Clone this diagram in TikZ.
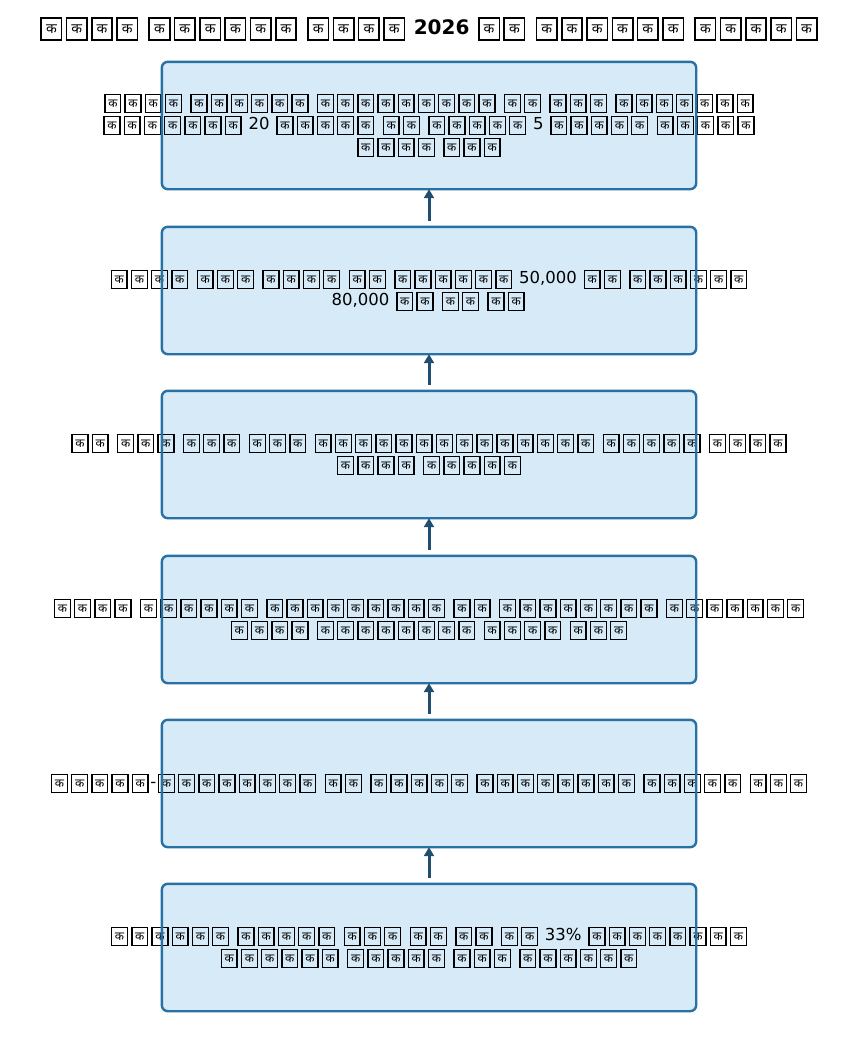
\documentclass[tikz,border=0pt]{standalone}
\usepackage{fontspec}
\setmainfont{DejaVu Sans}
\newfontfamily\devfont[Script=Devanagari]{Noto Sans}
\usetikzlibrary{arrows.meta}
\definecolor{boxfill}{RGB}{214,234,248}
\definecolor{boxline}{RGB}{40,113,165}
\definecolor{arrowcol}{RGB}{31,78,112}
\setlength{\fboxsep}{0pt}
\newcommand{\tfb}{\kern1.5pt\relax\raisebox{-4pt}{\setlength{\fboxrule}{1.4pt}\fbox{\vbox to16.6pt{\vss\hbox to14.4pt{\hss\devfont\fontsize{12}{12}\selectfont क\hss}\vss}}}\kern1.5pt\relax}
\newcommand{\ttfb}{\kern1.6pt\relax\raisebox{-4.5pt}{\setlength{\fboxrule}{1.6pt}\fbox{\vbox to20.6pt{\vss\hbox to18.9pt{\hss\devfont\fontsize{14}{14}\selectfont क\hss}\vss}}}\kern1.6pt\relax}
\newcommand{\kw}[1]{\ifnum#1>0 \tfb\expandafter\kw\expandafter{\the\numexpr#1-1\relax}\fi}
\newcommand{\tkw}[1]{\ifnum#1>0 \ttfb\expandafter\tkw\expandafter{\the\numexpr#1-1\relax}\fi}
\tikzset{
  stepfill/.style={fill=boxfill, minimum width=534pt, minimum height=127pt, rounded corners=6pt, inner sep=0pt},
  stepline/.style={draw=boxline, line width=2.4pt, rounded corners=6pt},
  steptext/.style={align=center, font=\fontsize{16.5}{22}\selectfont, inner sep=0pt},
  arr/.style={draw=arrowcol, line width=3pt, -{Triangle[length=9pt,width=10pt]}}
}
\begin{document}
\begin{tikzpicture}[x=1pt,y=-1pt]
\useasboundingbox (0,0) rectangle (858,1053);
% title
\node[font=\bfseries\fontsize{20}{24}\selectfont, inner sep=0pt] (title) at (429,29)
  {\tkw{4} \tkw{6} \tkw{4} 2026 \tkw{2} \tkw{6} \tkw{5}};
% box fills
\node[stepfill] (b1) at (429,125.5) {};
\node[stepfill] (b2) at (429,290.5) {};
\node[stepfill] (b3) at (429,454.5) {};
\node[stepfill] (b4) at (429,619.5) {};
\node[stepfill] (b5) at (429,783.5) {};
\node[stepfill] (b6) at (429,947.5) {};
% texts
\node[steptext] (t1) at (b1.center) {\kw{4} \kw{6} \kw{9} \kw{2} \kw{3} \kw{7}\\ \kw{7} 20 \kw{5} \kw{2} \kw{5} 5 \kw{5} \kw{5}\\ \kw{4} \kw{3}};
\node[steptext] (t2) at (b2.center) {\kw{4} \kw{3} \kw{4} \kw{2} \kw{6} 50,000 \kw{2} \kw{6}\\ 80,000 \kw{2} \kw{2} \kw{2}};
\node[steptext] (t3) at (b3.center) {\kw{2} \kw{3} \kw{3} \kw{3} \kw{14} \kw{5} \kw{4}\\ \kw{4} \kw{5}};
\node[steptext] (t4) at (b4.center) {\kw{4} \kw{6} \kw{9} \kw{2} \kw{8} \kw{7}\\ \kw{4} \kw{8} \kw{4} \kw{3}};
\node[steptext] (t5) at (b5.center) {\kw{5}-\kw{8} \kw{2} \kw{5} \kw{8} \kw{5} \kw{3}};
\node[steptext] (t6) at (b6.center) {\kw{6} \kw{5} \kw{3} \kw{2} \kw{2} \kw{2} 33\% \kw{8}\\ \kw{6} \kw{5} \kw{3} \kw{6}};
% borders
\foreach \b in {b1,b2,b3,b4,b5,b6}
  \draw[stepline] (\b.south west) rectangle (\b.north east);
% arrows
\draw[arr] ([yshift=6pt]b2.north) -- (b1.south);
\draw[arr] ([yshift=6pt]b3.north) -- (b2.south);
\draw[arr] ([yshift=6pt]b4.north) -- (b3.south);
\draw[arr] ([yshift=6pt]b5.north) -- (b4.south);
\draw[arr] ([yshift=6pt]b6.north) -- (b5.south);
\end{tikzpicture}
\end{document}
